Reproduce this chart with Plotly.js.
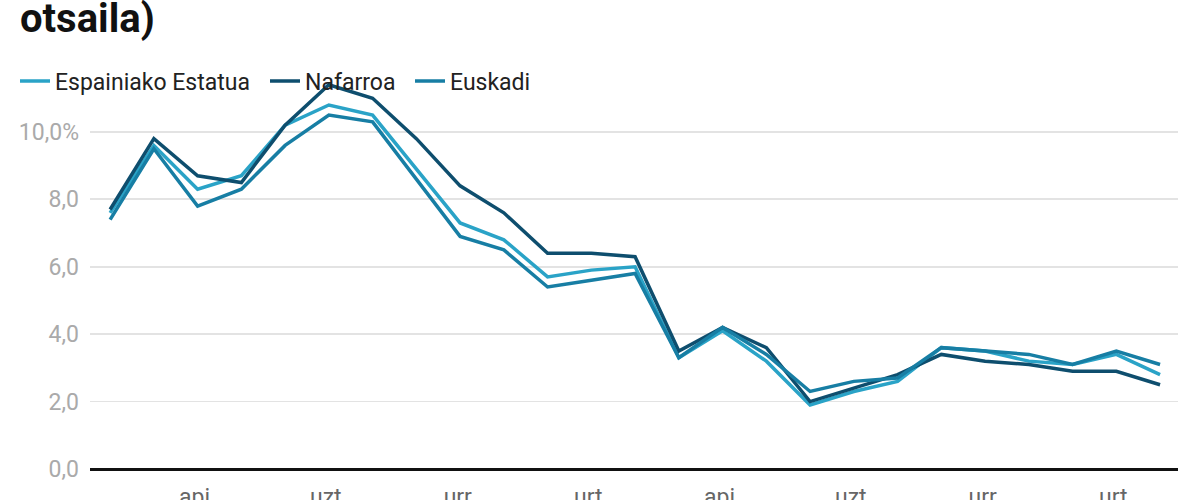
<!DOCTYPE html>
<html>
<head>
<meta charset="utf-8">
<script src="https://cdn.plot.ly/plotly-3.0.1.min.js"></script>
<style>
  html, body { margin: 0; padding: 0; background: #fff; overflow: hidden; }
  #chart { width: 1200px; height: 520px; }
</style>
</head>
<body>
<div id="chart"></div>
<script>
// monthly, 2022ko otsaila .. 2024ko otsaila
var months = ['2022-02', '2022-03', '2022-04', '2022-05', '2022-06', '2022-07', '2022-08',
  '2022-09', '2022-10', '2022-11', '2022-12', '2023-01', '2023-02', '2023-03', '2023-04',
  '2023-05', '2023-06', '2023-07', '2023-08', '2023-09', '2023-10', '2023-11', '2023-12',
  '2024-01', '2024-02'];

var espainia = [7.6, 9.6, 8.3, 8.7, 10.2, 10.8, 10.5, 8.9, 7.3, 6.8, 5.7, 5.9, 6.0,
  3.3, 4.1, 3.2, 1.9, 2.3, 2.6, 3.6, 3.5, 3.2, 3.1, 3.4, 2.8];
var nafarroa = [7.7, 9.8, 8.7, 8.5, 10.2, 11.4, 11.0, 9.8, 8.4, 7.6, 6.4, 6.4, 6.3,
  3.5, 4.2, 3.6, 2.0, 2.4, 2.8, 3.4, 3.2, 3.1, 2.9, 2.9, 2.5];
var euskadi = [7.4, 9.5, 7.8, 8.3, 9.6, 10.5, 10.3, 8.6, 6.9, 6.5, 5.4, 5.6, 5.8,
  3.3, 4.2, 3.4, 2.3, 2.6, 2.7, 3.6, 3.5, 3.4, 3.1, 3.5, 3.1];

var tickMonths = ['2022-04', '2022-07', '2022-10', '2023-01', '2023-04', '2023-07', '2023-10', '2024-01'];
var tickLabels = ['api.', 'uzt.', 'urr.', 'urt.', 'api.', 'uzt.', 'urr.', 'urt.'];
var yTicks = [0, 2, 4, 6, 8, 10];
var yLabels = ['0,0', '2,0', '4,0', '6,0', '8,0', '10,0%'];

var W = 1200, H = 520;
var M = { l: 90, r: 22, t: 78, b: 51 };
var plotW = W - M.l - M.r, plotH = H - M.t - M.b;

function line(name, values, color, legendId) {
  return {
    type: 'scatter', mode: 'lines', name: name,
    x: months, y: values, legend: legendId,
    line: { color: color, width: 3.5 },
    hoverinfo: 'skip'
  };
}

// one legend per series so the entries sit where the reference has them
function legendAt(px) {
  return {
    orientation: 'h', xref: 'paper', yref: 'paper',
    x: (px - M.l) / plotW, xanchor: 'left',
    y: (H - M.b - 81) / plotH, yanchor: 'middle',
    bgcolor: 'rgba(0,0,0,0)', borderwidth: 0,
    font: { size: 23, color: '#222' }, itemwidth: 30
  };
}

var traces = [
  line('Espainiako Estatua', espainia, '#2aa3c7', 'legend'),
  line('Nafarroa', nafarroa, '#0e4e6e', 'legend2'),
  line('Euskadi', euskadi, '#177ea4', 'legend3')
];

var layout = {
  width: W, height: H,
  margin: M,
  paper_bgcolor: '#fff', plot_bgcolor: '#fff',
  font: { family: 'Roboto, sans-serif', color: '#222' },
  title: {
    text: 'otsaila)',
    font: { family: 'Roboto, sans-serif', size: 40, weight: 700, color: '#111' },
    x: 20 / W, xref: 'container', xanchor: 'left',
    y: 1, yref: 'container', yanchor: 'top', pad: { t: 4 }
  },
  showlegend: true,
  legend: legendAt(15),
  legend2: legendAt(265),
  legend3: legendAt(410),
  xaxis: {
    type: 'category', range: [-0.46, 24.41],
    tickmode: 'array', tickvals: tickMonths, ticktext: tickLabels,
    showgrid: false, zeroline: false, ticks: '', showline: false,
    tickfont: { size: 23, color: '#666' }, ticklabelstandoff: 12
  },
  yaxis: {
    range: [0, 11.6], tickmode: 'array', tickvals: yTicks, ticktext: yLabels,
    showgrid: true, gridcolor: '#e3e3e3', gridwidth: 1.8,
    zeroline: true, zerolinecolor: '#111', zerolinewidth: 3,
    ticks: '', tickfont: { size: 23, color: '#aaa' }, ticklabelstandoff: 10
  },
  hovermode: false
};

Plotly.newPlot('chart', traces, layout, { displayModeBar: false, staticPlot: true });
</script>
</body>
</html>
